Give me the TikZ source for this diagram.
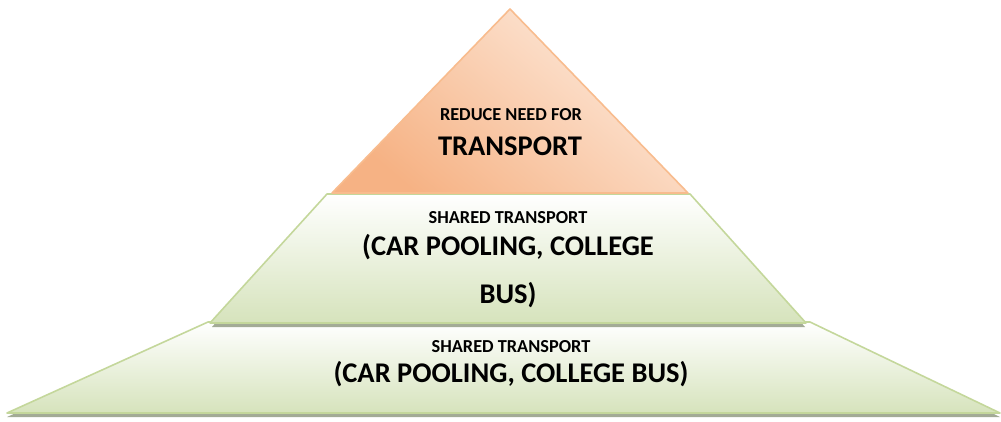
\documentclass[tikz,border=0pt]{standalone}
\usepackage{fontspec}
\setmainfont{Carlito}
\definecolor{peachline}{RGB}{248,188,142}
\definecolor{peachdark}{RGB}{246,178,132}
\definecolor{peachlight}{RGB}{253,234,220}
\definecolor{oliveline}{RGB}{196,215,155}
\definecolor{olivefill}{RGB}{214,227,188}
\definecolor{shadowgray}{RGB}{163,171,150}

\begin{document}
\begin{tikzpicture}[x=1pt,y=1pt,
    tier/.style={draw=oliveline, line width=1.6pt, line join=round, top color=white, bottom color=olivefill},
    apex/.style={draw=peachline, line width=1.6pt, line join=round, top color=peachlight, bottom color=peachdark, shading angle=-40},
    small/.style={anchor=base, font=\bfseries\fontsize{18.3}{22}\selectfont},
    big/.style={anchor=base, font=\bfseries\fontsize{28.5}{34}\selectfont}]
          \useasboundingbox (0,0) rectangle (1001,421);
          % bottom tier
          \fill [shadowgray] (7,4) -- (1000,4) -- (810,95) -- (208,95) -- cycle;
          \path [tier] (7,8) -- (1000,8) -- (810,99) -- (208,99) -- cycle;
          % middle tier
          \fill [shadowgray] (212,94) -- (805,94) -- (690,223) -- (327,223) -- cycle;
          \path [tier] (210,98) -- (806,98) -- (690,227) -- (327,227) -- cycle;
          % top
          \path [apex] (332,228) -- (688,228) -- (510,412) -- cycle;
          \node [small] (need) at (511,300) {REDUCE NEED FOR};
          \node [big] (transport) at (510,265) {TRANSPORT};
          \node [small] (shared) at (508,198) {SHARED TRANSPORT};
          \node [big] (pooling) at (508,166) {(CAR POOLING, COLLEGE};
          \node [big] (bus) at (508,118) {BUS)};
          \node [small] (sharedlow) at (511,69) {SHARED TRANSPORT};
          \node [big] (poolinglow) at (511,39) {(CAR POOLING, COLLEGE BUS)};
        \end{tikzpicture}
\end{document}
